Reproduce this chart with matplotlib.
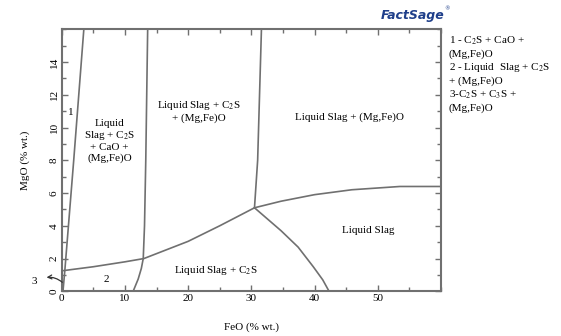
"""Recreate the FactSage CaO-SiO2-FeO-MgO isothermal section (MgO vs FeO)."""
import matplotlib

matplotlib.use("Agg")
import matplotlib.pyplot as plt
from matplotlib.ticker import MultipleLocator

plt.rcParams["font.family"] = ["Liberation Serif", "DejaVu Serif"]
plt.rcParams["mathtext.fontset"] = "stix"

GRAY = "#707070"

# phase boundaries: (FeO %, MgO %)
left_feo = [0.2, 0.5, 1.9, 2.9, 3.5]
left_mgo = [0.0, 1.3, 8.0, 13.0, 16.0]

low_feo = [0.0, 5.0, 10.0, 13.0, 20.0, 25.0, 30.5]
low_mgo = [1.25, 1.5, 1.8, 2.0, 3.05, 4.0, 5.1]

mid_feo = [13.6, 13.3, 13.1, 12.9, 12.6, 12.1, 11.3]
mid_mgo = [16.0, 8.0, 4.0, 2.0, 1.4, 0.75, 0.0]

right_feo = [31.6, 31.0, 30.5]
right_mgo = [16.0, 8.0, 5.1]

upper_feo = [30.5, 34.7, 40.0, 45.9, 53.5, 60.0]
upper_mgo = [5.1, 5.5, 5.9, 6.2, 6.4, 6.4]

lower_feo = [30.5, 34.7, 37.4, 39.8, 41.3, 42.3]
lower_mgo = [5.1, 3.7, 2.7, 1.5, 0.7, 0.0]

BOUNDARIES = [
    (left_feo, left_mgo),
    (low_feo, low_mgo),
    (mid_feo, mid_mgo),
    (right_feo, right_mgo),
    (upper_feo, upper_mgo),
    (lower_feo, lower_mgo),
]

C2S = r"C$_2$S"
C3S = r"C$_3$S"
FIELDS = [
    ("1", 1.4, 10.9),
    ("Liquid\nSlag + " + C2S + "\n+ CaO +\n(Mg,Fe)O", 7.6, 9.2),
    ("Liquid Slag + " + C2S + "\n+ (Mg,Fe)O", 21.7, 11.0),
    ("Liquid Slag + (Mg,Fe)O", 45.5, 10.6),
    ("Liquid Slag", 48.5, 3.7),
    ("Liquid Slag + " + C2S, 24.3, 1.3),
    ("2", 7.0, 0.7),
]

KEY = [
    "1 - " + C2S + " + CaO +",
    "(Mg,Fe)O",
    "2 - Liquid  Slag + " + C2S,
    "+ (Mg,Fe)O",
    "3-" + C2S + " + " + C3S + " +",
    "(Mg,Fe)O",
]


def main():
    fig = plt.figure(figsize=(5.61, 3.36), dpi=100)
    ax = fig.add_axes([0.110, 0.133, 0.676, 0.780])

    for fx, my in BOUNDARIES:
        ax.plot(fx, my, color=GRAY, lw=1.2, solid_capstyle="round",
                solid_joinstyle="round")

    for txt, x, y in FIELDS:
        ax.text(x, y, txt, ha="center", va="center", fontsize=8, linespacing=1.15)

    # region 3 is too small to label inside, so point at it
    ax.text(-4.4, 0.6, "3", fontsize=8, ha="center", va="center", clip_on=False)
    ax.annotate("", xy=(-2.4, 0.85), xytext=(0.1, 0.55), annotation_clip=False,
                arrowprops=dict(arrowstyle="->", color="#333333", lw=0.9,
                                mutation_scale=7, shrinkA=0, shrinkB=0,
                                connectionstyle="arc3,rad=0.2"))

    ax.set_xlim(0, 60)
    ax.set_ylim(0, 16)
    ax.xaxis.set_minor_locator(MultipleLocator(5))
    ax.yaxis.set_minor_locator(MultipleLocator(1))
    ax.set_xticks([0, 10, 20, 30, 40, 50])
    ax.set_yticks([0, 2, 4, 6, 8, 10, 12, 14])
    ax.tick_params(which="both", direction="in", top=True, right=True,
                   color=GRAY, width=1.0, labelsize=8, pad=2)
    ax.tick_params(which="major", length=4)
    ax.tick_params(which="minor", length=3)
    for lab in ax.get_yticklabels():
        lab.set_rotation(90)
        lab.set_va("center")
    for sp in ax.spines.values():
        sp.set_color(GRAY)
        sp.set_linewidth(1.5)

    ax.set_xlabel("FeO (% wt.)", fontsize=8, labelpad=14)
    ax.set_ylabel("MgO (% wt.)", fontsize=8, labelpad=14)

    for i, line in enumerate(KEY):
        fig.text(0.800, 0.880 - i * 0.0405, line, fontsize=8, va="center")

    fig.text(0.735, 0.955, "FactSage", fontsize=9, fontweight="bold",
             style="italic", color="#1f3f8a", ha="center", va="center",
             family=["DejaVu Sans"])
    fig.text(0.797, 0.975, "\u00ae", fontsize=4, color="#1f3f8a",
             ha="center", va="center", family=["DejaVu Sans"])

    fig.savefig("out.png", dpi=100)


if __name__ == "__main__":
    main()
